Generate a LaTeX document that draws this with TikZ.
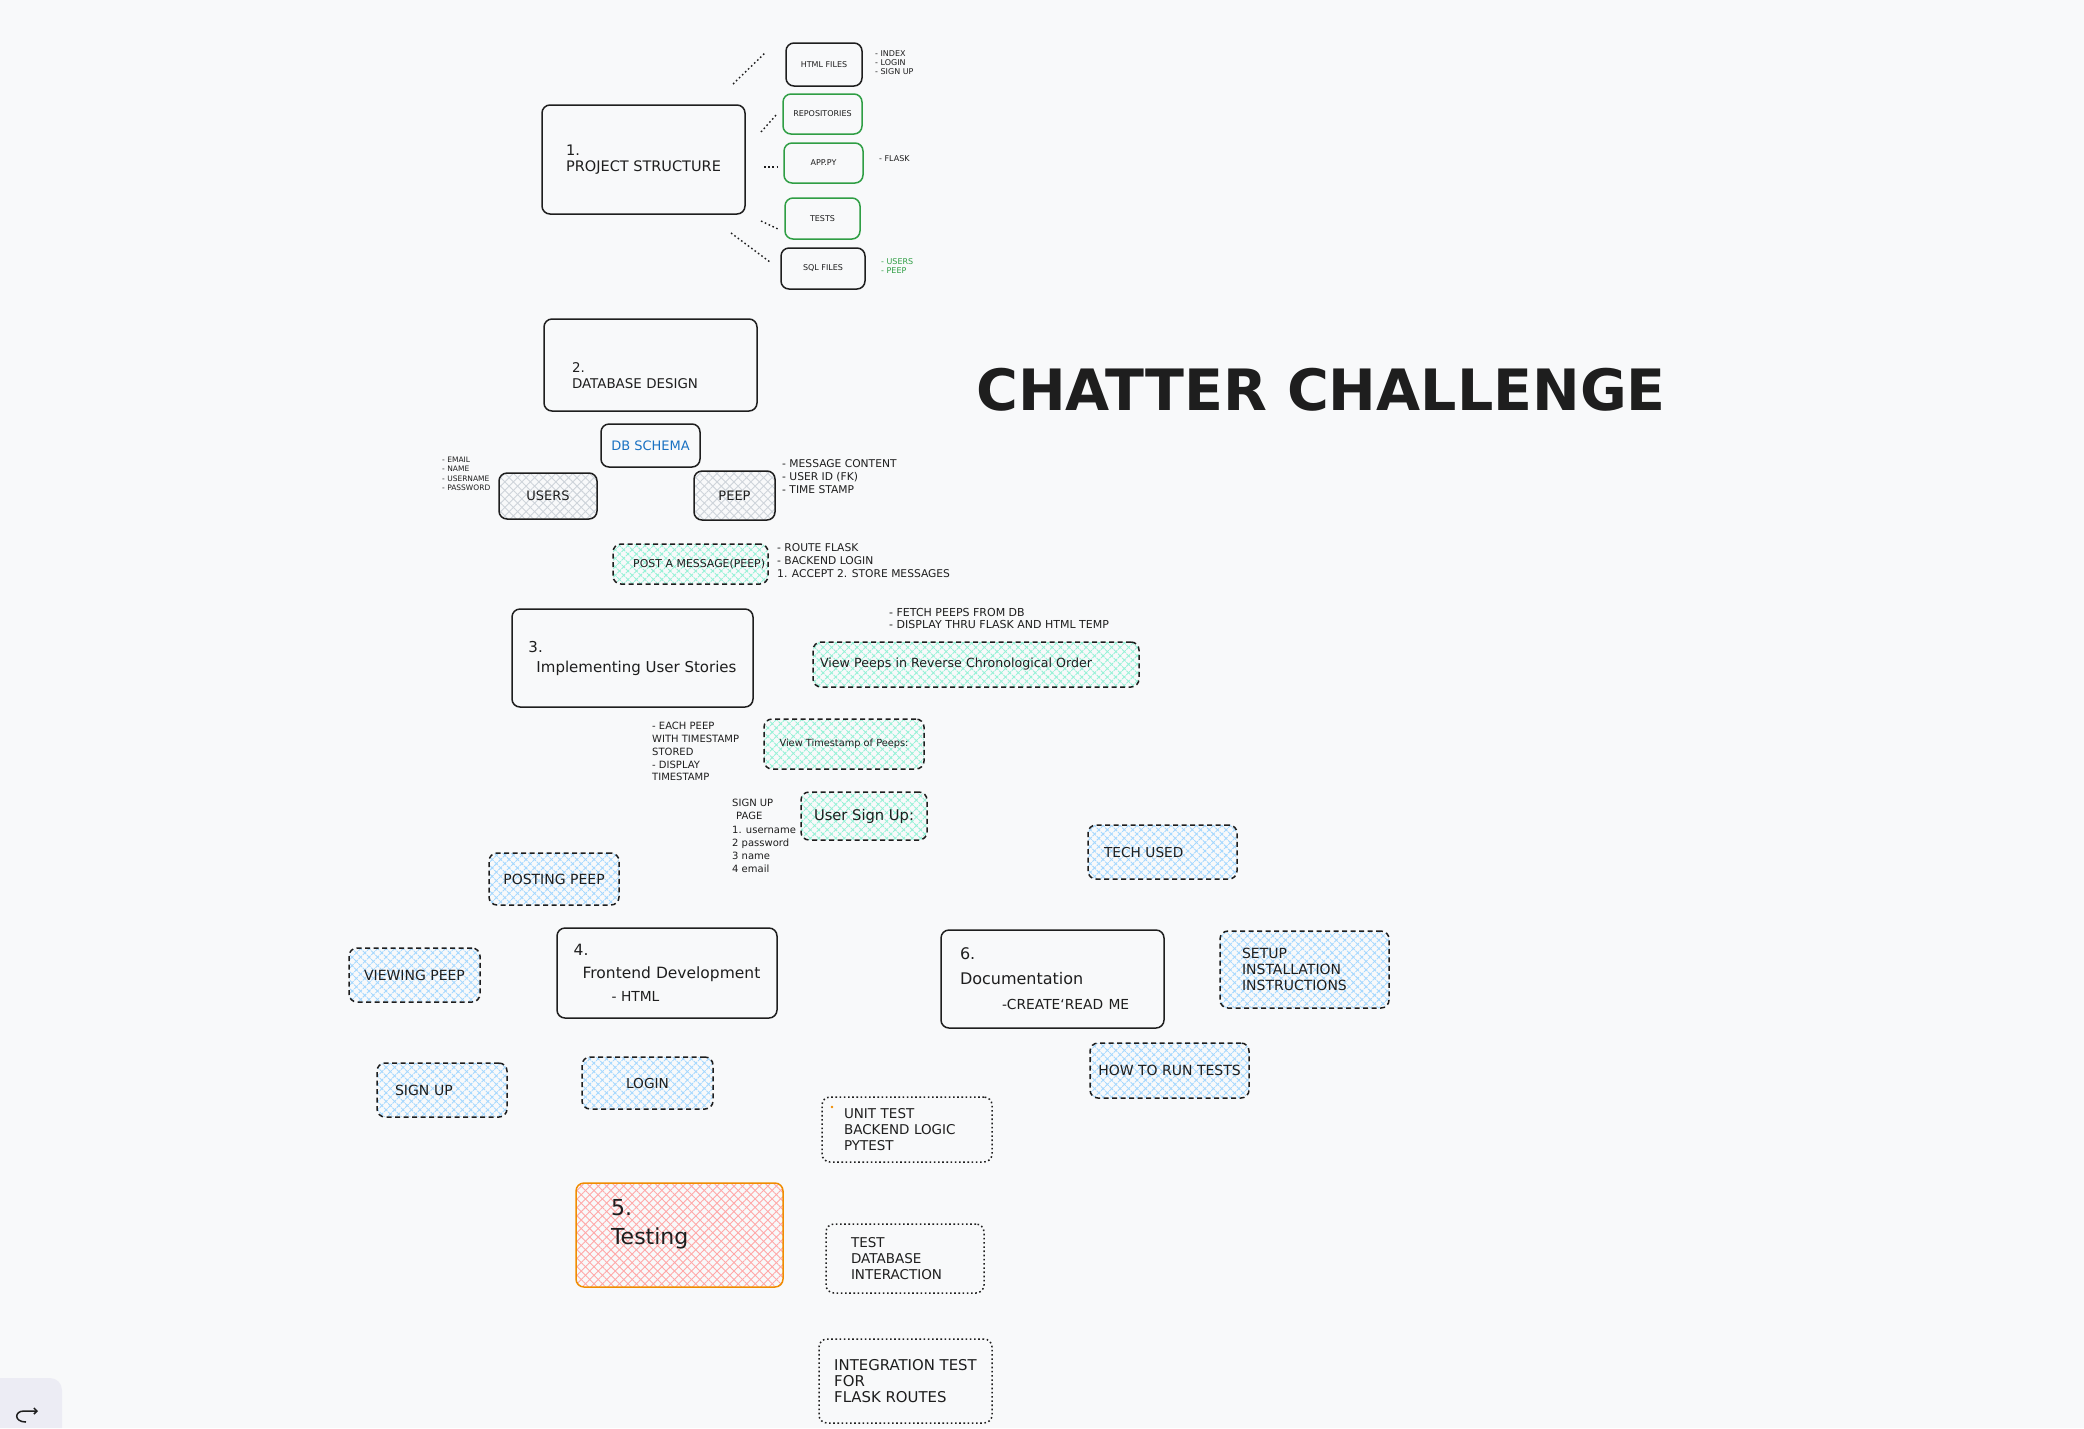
\documentclass[tikz,border=0pt]{standalone}
\usepackage{fontspec}
\setmainfont{DejaVu Sans}
\usetikzlibrary{patterns.meta,arrows.meta}

\definecolor{bg}{HTML}{F8F9FA}
\definecolor{ink}{HTML}{1E1E1E}
\definecolor{okgreen}{HTML}{2F9E44}
\definecolor{schemablue}{HTML}{1971C2}
\definecolor{hatchblue}{HTML}{A5D8FF}
\definecolor{hatchmint}{HTML}{96F2D7}
\definecolor{hatchgray}{HTML}{CED4DA}
\definecolor{hatchred}{HTML}{FFA8A8}
\definecolor{testorange}{HTML}{F08C00}
\definecolor{uigray}{HTML}{ECECF4}

\tikzset{
  box/.style={draw=ink, line width=1.5pt, rounded corners=8pt, align=left, text=ink},
  greenbox/.style={box, draw=okgreen},
  dashbox/.style={box, dash pattern=on 5pt off 3.5pt},
  dotbox/.style={box, dash pattern=on 1.6pt off 2.6pt},
  hatch/.style={
    preaction={pattern={Lines[angle=45,distance=6pt,line width=.9pt]}, pattern color=#1},
    preaction={pattern={Lines[angle=-45,distance=6pt,line width=.9pt]}, pattern color=#1}},
  note/.style={anchor=north west, inner sep=0pt, align=left, text=ink},
  fs/.style 2 args={font=\fontsize{#1}{#2}\selectfont},
  dotline/.style={draw=ink, line width=1.4pt, dash pattern=on 1.6pt off 2.6pt}
}

\begin{document}
\begin{tikzpicture}[x=1pt,y=-1pt]
  \useasboundingbox (0,0) rectangle (2084,1428);
  \fill[bg] (0,0) rectangle (2084,1428);

  \node[font=\bfseries\fontsize{57}{60}\selectfont, text=ink] (title) at (1321,390) {CHATTER CHALLENGE};

  \node[box, fs={14.5}{16}, minimum width=203pt, minimum height=109pt] (proj) at (643.5,159.5) {1.\\PROJECT STRUCTURE};
  \node[box, fs={8}{9.6}, minimum width=76pt, minimum height=43pt] (html) at (824,64.5) {HTML FILES};
  \node[greenbox, fs={8}{9.6}, minimum width=79pt, minimum height=40pt] (repos) at (822.5,114) {REPOSITORIES};
  \node[greenbox, fs={8}{9.6}, minimum width=79pt, minimum height=40pt] (app) at (823.5,163) {APP.PY};
  \node[greenbox, fs={8}{9.6}, minimum width=75pt, minimum height=41pt] (tests) at (822.5,218.5) {TESTS};
  \node[box, fs={8}{9.6}, minimum width=84pt, minimum height=41pt] (sql) at (823,268.5) {SQL FILES};
  \node[note, fs={8}{9}] (htmlnote) at (875,50) {- INDEX\\- LOGIN\\- SIGN UP};
  \node[note, anchor=west, fs={8}{9}] (appnote) at (879,159) {- FLASK};
  \node[note, text=okgreen, fs={8}{9}] (sqlnote) at (881,258) {- USERS\\- PEEP};

  \coordinate (d1a) at (733,84);  \coordinate (d1b) at (766,52);
  \coordinate (d2a) at (761,132); \coordinate (d2b) at (777,114);
  \coordinate (d3a) at (764,167); \coordinate (d3b) at (778,167);
  \coordinate (d4a) at (761,221); \coordinate (d4b) at (778,229);
  \coordinate (d5a) at (731,233); \coordinate (d5b) at (770,262);
  \draw[dotline] (d1a) -- (d1b);
  \draw[dotline] (d2a) -- (d2b);
  \draw[dotline] (d3a) -- (d3b);
  \draw[dotline] (d4a) -- (d4b);
  \draw[dotline] (d5a) -- (d5b);

  \node[box, fs={13.4}{16}, minimum width=213pt, minimum height=92pt, text width=157pt, inner xsep=28pt, text height=31pt] (dbdesign) at (650.5,365) {2.\\DATABASE DESIGN};
  \node[box, text=schemablue, fs={13}{15}, minimum width=99pt, minimum height=43pt] (schema) at (650.5,445.5) {DB SCHEMA};
  \node[box, hatch=hatchgray, fs={13}{15}, minimum width=98pt, minimum height=46pt] (users) at (548,496) {USERS};
  \node[box, hatch=hatchgray, fs={13}{15}, minimum width=81pt, minimum height=49pt] (peep) at (734.5,495.5) {PEEP};
  \node[note, fs={7.5}{9.3}] (usersnote) at (442,457) {- EMAIL\\- NAME\\- USERNAME\\- PASSWORD};
  \node[note, fs={10.7}{13}] (peepnote) at (782,459) {- MESSAGE CONTENT\\- USER ID (FK)\\- TIME STAMP};

  \node[dashbox, hatch=hatchmint, fs={10.9}{13}, minimum width=155pt, minimum height=40pt, text width=149pt, inner xsep=3pt, align=right] (post) at (690.5,564) {POST A MESSAGE(PEEP)};
  \node[note, fs={10.7}{13}] (postnote) at (777,543) {- ROUTE FLASK\\- BACKEND LOGIN\\1. ACCEPT 2. STORE MESSAGES};

  \node[box, fs={15}{20}, minimum width=241pt, minimum height=98pt] (stories) at (632.5,658) {3.\\\hspace*{8pt}Implementing User Stories};
  \node[note, fs={11}{12.5}] (viewnote) at (889,608) {- FETCH PEEPS FROM DB\\- DISPLAY THRU FLASK AND HTML TEMP};
  \node[dashbox, hatch=hatchmint, fs={12.6}{15}, minimum width=326pt, minimum height=45pt, text width=312pt, inner xsep=7pt] (viewpeeps) at (976,664.5) {View Peeps in Reverse Chronological Order};
  \node[note, fs={10}{12.8}] (stampnote) at (652,722) {- EACH PEEP\\WITH TIMESTAMP\\STORED\\- DISPLAY\\TIMESTAMP};
  \node[dashbox, hatch=hatchmint, fs={9.8}{12}, minimum width=160pt, minimum height=50pt] (viewstamp) at (844,744) {View Timestamp of Peeps:};
  \node[note, fs={10}{13.2}] (signupnote) at (732,799) {SIGN UP\\\hspace*{4pt}PAGE\\1. username\\2 password\\3 name\\4 email};
  \node[dashbox, hatch=hatchmint, fs={14.7}{17}, minimum width=126pt, minimum height=48pt] (usersignup) at (864,816) {User Sign Up:};

  \node[box, fs={15.5}{23}, minimum width=220pt, minimum height=90pt] (frontend) at (667,973) {4.\\\hspace*{9pt}Frontend Development\\\hspace*{38pt}{\fontsize{13.8}{23}\selectfont - HTML}};
  \node[dashbox, hatch=hatchblue, fs={14}{16}, minimum width=130pt, minimum height=52pt] (posting) at (554,879) {POSTING PEEP};
  \node[dashbox, hatch=hatchblue, fs={14}{16}, minimum width=131pt, minimum height=54pt] (viewing) at (414.5,975) {VIEWING PEEP};
  \node[dashbox, hatch=hatchblue, fs={14}{16}, minimum width=130pt, minimum height=54pt, text width=94pt, inner xsep=18pt] (signup) at (442,1090) {SIGN UP};
  \node[dashbox, hatch=hatchblue, fs={13.7}{16}, minimum width=131pt, minimum height=52pt] (login) at (647.5,1083) {LOGIN};

  \node[box, fs={16}{25}, minimum width=223pt, minimum height=98pt, text width=185pt, inner xsep=19pt] (docs) at (1052.5,979) {6.\\Documentation\\\hspace*{42pt}{\fontsize{13.8}{25}\selectfont -CREATE`READ ME}};
  \node[dashbox, hatch=hatchblue, fs={13.7}{16}, minimum width=149pt, minimum height=54pt, text width=117pt, inner xsep=16pt] (tech) at (1162.5,852) {TECH USED};
  \node[dashbox, hatch=hatchblue, fs={14}{16}, minimum width=169pt, minimum height=77pt, text width=125pt, inner xsep=22pt] (setup) at (1304.5,969.5) {SETUP\\INSTALLATION\\INSTRUCTIONS};
  \node[dashbox, hatch=hatchblue, fs={14}{16}, minimum width=159pt, minimum height=55pt] (howto) at (1169.5,1070.5) {HOW TO RUN TESTS};

  \node[box, draw=testorange, hatch=hatchred, fs={22}{29}, minimum width=207pt, minimum height=104pt, text width=137pt, inner xsep=35pt, text depth=55pt] (testing) at (679.5,1235) {5.\\Testing};
  \node[dotbox, fs={13.5}{16}, minimum width=170pt, minimum height=65pt, text width=126pt, inner xsep=22pt] (unit) at (907,1129.5) {UNIT TEST\\BACKEND LOGIC\\PYTEST};
  \fill[testorange] (832,1107) circle (1.3);
  \node[dotbox, fs={13.5}{16}, minimum width=158pt, minimum height=69pt, text width=108pt, inner xsep=25pt] (dbtest) at (905,1258.5) {TEST\\DATABASE\\INTERACTION};
  \node[dotbox, fs={14.9}{16}, minimum width=173pt, minimum height=84pt] (integration) at (905.5,1381) {INTEGRATION TEST\\FOR\\FLASK ROUTES};

  \fill[uigray] (0,1428) -- (0,1378) [rounded corners=12pt] -- (62,1378) [sharp corners] -- (62,1428) -- cycle;
  \draw[ink, line width=1.5pt, -{Straight Barb[length=3pt]}] (26,1422) .. controls (14,1422) and (14,1411) .. (24,1411) -- (38,1411);
\end{tikzpicture}
\end{document}
